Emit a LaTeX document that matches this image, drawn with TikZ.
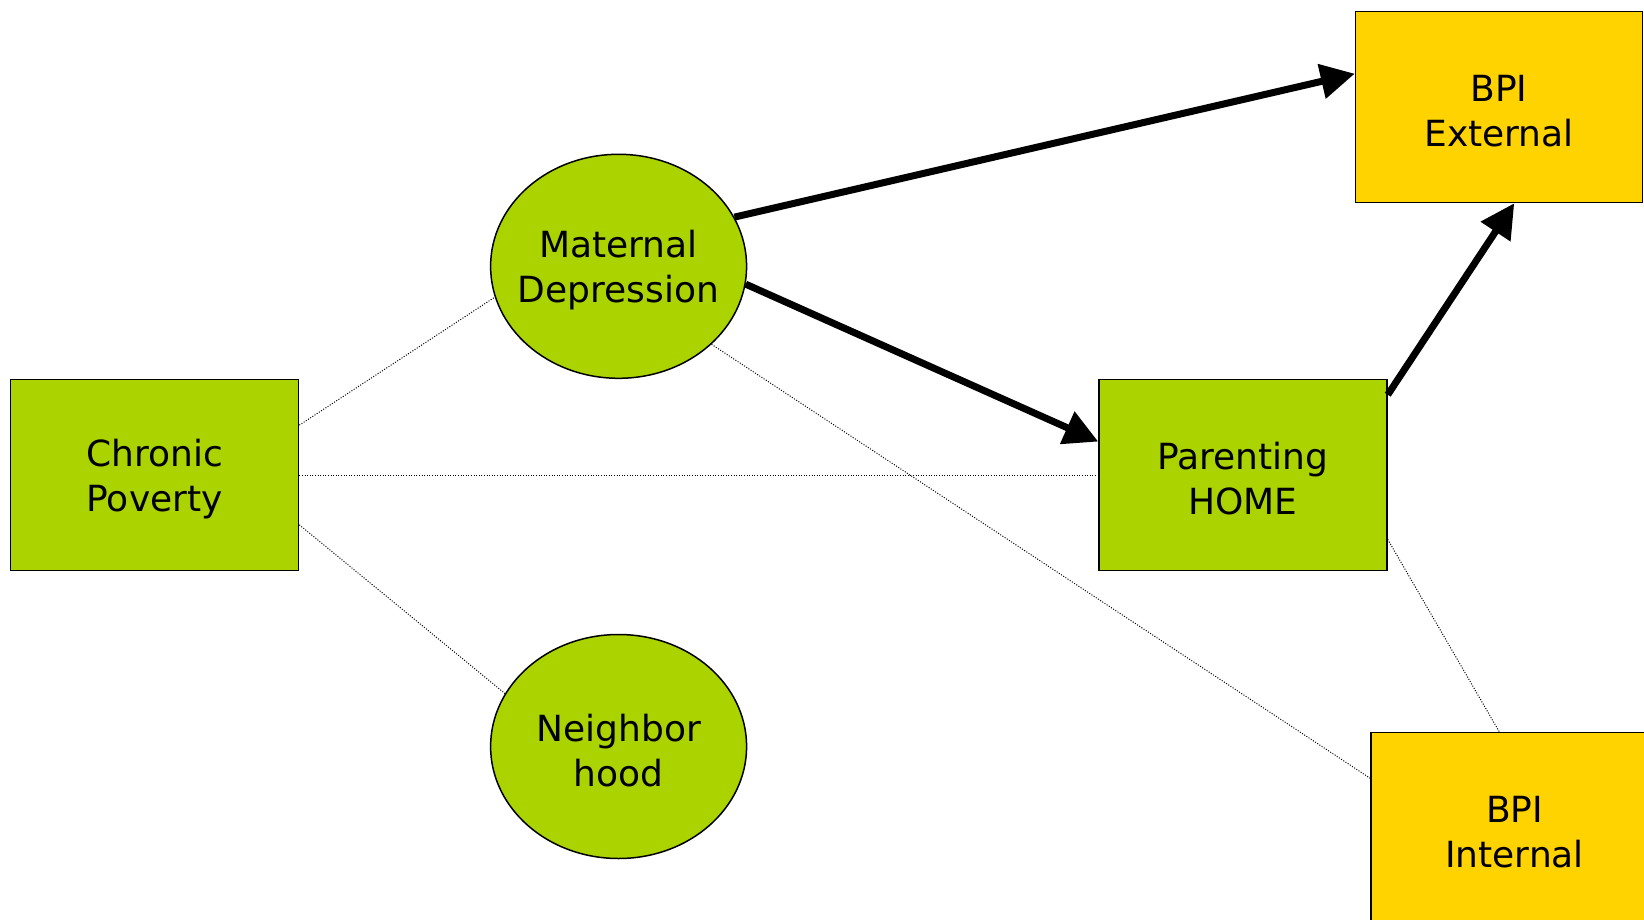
\documentclass[tikz,border=0pt]{standalone}
\usepackage{fontspec}
\setmainfont{DejaVu Sans}
\usetikzlibrary{shapes.geometric,arrows.meta}

\definecolor{leaf}{RGB}{170,211,0}
\definecolor{gold}{RGB}{255,211,0}

\begin{document}
\begin{tikzpicture}[x=0.5pt,y=-0.5pt,
    txt/.style={font=\fontsize{18}{22.5}\selectfont, align=center, yshift=-2pt},
    box/.style={draw, line width=0.75pt, inner sep=0pt, minimum width=144pt, minimum height=95.5pt},
    oval/.style={draw, ellipse, line width=0.75pt, inner sep=0pt, minimum width=128pt, minimum height=112pt, fill=leaf},
    effect/.style={line width=3.5pt, -{Triangle[length=17pt,width=17pt]}},
    corr/.style={line width=0.5pt, dash pattern=on 0.5pt off 0.8pt}]
    \useasboundingbox (0,0) rectangle (1644,920);

    % variables
    \node[box, fill=leaf, label={[txt]center:Chronic\\Poverty}] (pov) at (154.6,475) {};
    \node[oval, label={[txt]center:Maternal\\Depression}] (dep) at (618.6,266.3) {};
    \node[oval, label={[txt]center:Neighbor\\hood}] (hood) at (618.6,746.5) {};
    \node[box, fill=leaf, label={[txt]center:Parenting\\HOME}] (home) at (1243,475) {};
    \node[box, fill=gold, minimum width=143.5pt, label={[txt]center:BPI\\External}] (ext) at (1499,107) {};
    \node[box, fill=gold, minimum width=143.5pt, label={[txt]center:BPI\\Internal}] (int) at (1514.5,828) {};

    % correlations
    \draw[corr] (pov.19) -- (dep.-166);
    \draw[corr] (pov.east) -- (home.west);
    \draw[corr] (pov.-19) -- (hood.155);
    \draw[corr] (dep.-40) -- (int.161);
    \draw[corr] (home.-24) -- (int.99);

    % paths
    \draw[effect] (dep.23) -- (ext.167);
    \draw[effect] (dep.-8) -- (home.167);
    \draw[effect] (home.29) -- (ext.-81);

\end{tikzpicture}
\end{document}
